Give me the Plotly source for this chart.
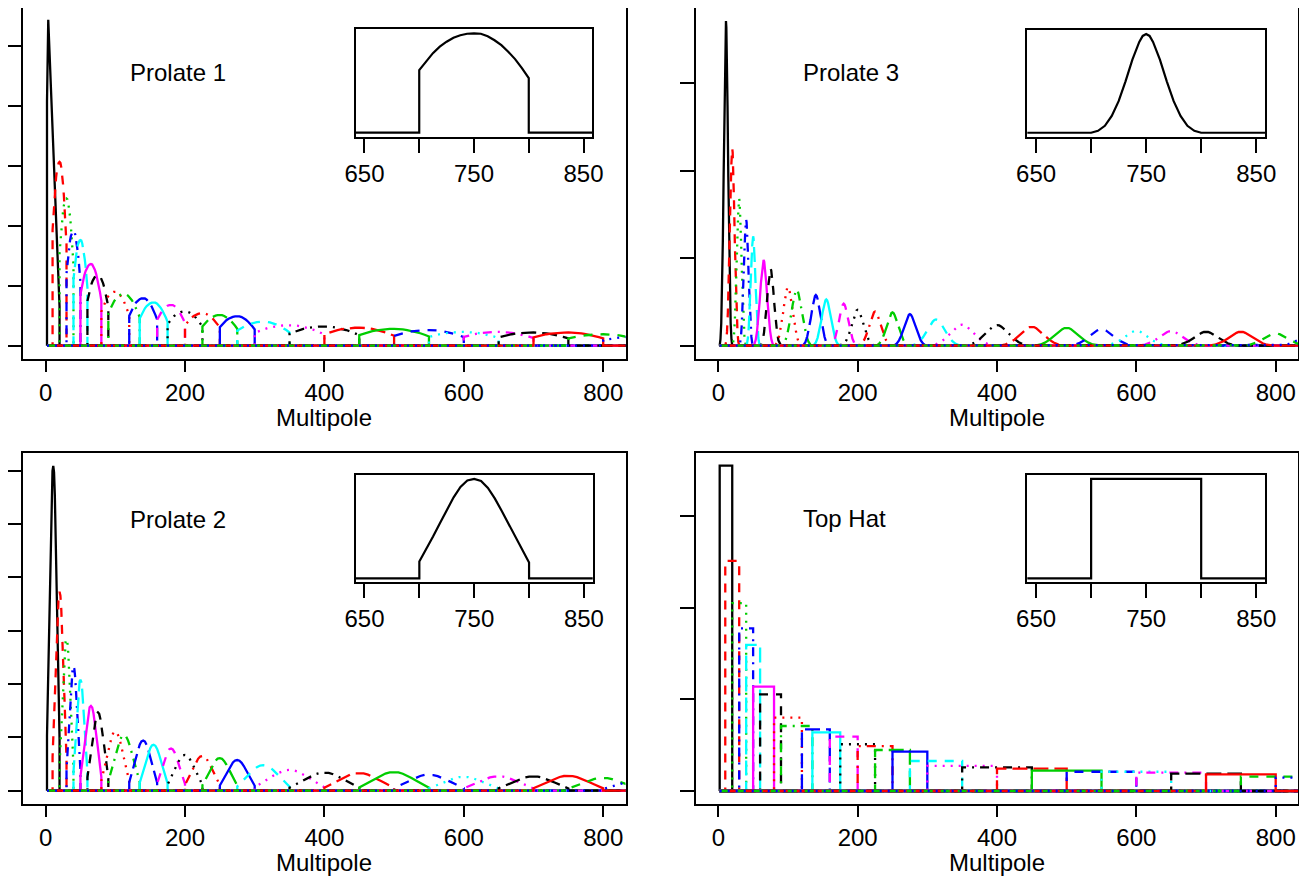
import plotly.graph_objects as go

# ---------------- data ----------------
# overlapping multipole bins (band b spans bin_lo[b]..bin_hi[b])
bin_lo = [2, 10, 20, 30, 40, 50, 60, 80, 90, 120, 135, 160, 175, 200, 225, 250,
          275, 300, 350, 400, 450, 500, 550, 600, 650, 700, 750, 800]
bin_hi = [20, 30, 40, 50, 60, 80, 90, 120, 135, 160, 175, 200, 225, 250, 275, 300,
          350, 400, 450, 500, 550, 600, 650, 700, 750, 800, 850, 900]

# peak height of every band window (arbitrary units, axis ticks every 1 unit)
prolate1_peak = [5.43, 3.06, 2.45, 1.91, 1.76, 1.36, 1.18, 0.90, 0.86, 0.79, 0.72, 0.68,
                 0.57, 0.54, 0.51, 0.49, 0.40, 0.34, 0.32, 0.30, 0.28, 0.26, 0.23, 0.23,
                 0.22, 0.22, 0.19, 0.15]
prolate3_peak = [3.71, 2.255, 1.68, 1.44, 1.25, 0.98, 0.88, 0.67, 0.64, 0.58, 0.53, 0.48,
                 0.41, 0.39, 0.38, 0.36, 0.30, 0.24, 0.236, 0.217, 0.206, 0.19, 0.17,
                 0.168, 0.16, 0.16, 0.14, 0.12]
prolate2_peak = [6.09, 3.73, 2.84, 2.33, 2.08, 1.59, 1.47, 1.11, 1.04, 0.94, 0.86, 0.79,
                 0.67, 0.65, 0.61, 0.575, 0.48, 0.39, 0.34, 0.33, 0.35, 0.30, 0.26, 0.27,
                 0.27, 0.28, 0.24, 0.20]
tophat_peak = [3.549, 2.51, 2.05, 1.775, 1.593, 1.138, 1.055, 0.80, 0.709, 0.673, 0.64,
               0.593, 0.51, 0.49, 0.447, 0.429, 0.327, 0.273, 0.258, 0.243, 0.222, 0.21,
               0.21, 0.20, 0.189, 0.182, 0.156, 0.145]

# window shapes (fraction across band, relative height)
prolate1_frac = [0, 0, 0.0625, 0.125, 0.1875, 0.25, 0.3125, 0.375, 0.4375, 0.5,
                 0.5625, 0.625, 0.6875, 0.75, 0.8125, 0.875, 0.9375, 1, 1]
prolate1_val = [0, 0.63, 0.72, 0.80, 0.865, 0.915, 0.955, 0.98, 0.995, 1.0,
                0.995, 0.97, 0.93, 0.88, 0.815, 0.74, 0.65, 0.55, 0]
prolate1_first_frac = [0, 0, 0.1, 0.55, 1.0, 1.0]
prolate1_first_val = [0, 0.75, 1.0, 0.56, 0.12, 0]
prolate2_frac = [0, 0, 0.0625, 0.125, 0.1875, 0.25, 0.3125, 0.375, 0.4375, 0.5,
                 0.5625, 0.625, 0.6875, 0.75, 0.8125, 0.875, 0.9375, 1, 1]
prolate2_val = [0, 0.17, 0.29, 0.42, 0.555, 0.69, 0.815, 0.92, 0.985, 1.0,
                0.98, 0.91, 0.805, 0.68, 0.55, 0.42, 0.29, 0.16, 0]
prolate3_frac = [0, 0.0625, 0.125, 0.1875, 0.25, 0.3125, 0.375, 0.4375, 0.46875, 0.5,
                 0.53125, 0.5625, 0.625, 0.6875, 0.75, 0.8125, 0.875, 0.9375, 1]
prolate3_val = [0, 0.02, 0.07, 0.17, 0.32, 0.52, 0.74, 0.92, 0.98, 1.0,
                0.98, 0.92, 0.74, 0.52, 0.32, 0.17, 0.07, 0.02, 0]
tophat_frac = [0, 0, 1, 1]
tophat_val = [0, 1, 1, 0]

panel_titles = ["Prolate 1", "Prolate 3", "Prolate 2", "Top Hat"]
x_ticks = [0, 200, 400, 600, 800]
inset_ticks = [650, 700, 750, 800, 850]
inset_ticktext = ["650", "", "750", "", "850"]
inset_band = (700, 800)
x_title = "Multipole"

# ---------------- styling ----------------
colors = ["#000000", "#FF0000", "#00CD00", "#0000FF", "#00FFFF", "#FF00FF"]
dashes = ["solid", "9px,8px", "2px,6px", "2px,6px,9px,6px", "15px,6px"]
FONT = "Liberation Sans, Arial, Helvetica, sans-serif"
FS = 24
PAGE_W, PAGE_H = 1307, 880
OFF = 8                      # default page body margin
W, H = PAGE_W - 2 * OFF, PAGE_H - OFF

def px_x(p):
    return (p - OFF) / W

def px_y(p):
    return 1 - (p - OFF) / H

panels = [
    dict(peaks=prolate1_peak, frac=prolate1_frac, val=prolate1_val,
         first=(prolate1_first_frac, prolate1_first_val),
         box=(23.3, 625.5, 8.3, 359), yr=[-0.222, 5.62], nt=5, label_y=4.55,
         inset=(355.7, 592.3, 29.3, 136.7)),
    dict(peaks=prolate3_peak, frac=prolate3_frac, val=prolate3_val, first=None,
         box=(696, 1298, 8.3, 359), yr=[-0.152, 3.856], nt=3, label_y=3.12,
         inset=(1027.3, 1265, 30, 136.7)),
    dict(peaks=prolate2_peak, frac=prolate2_frac, val=prolate2_val, first=None,
         box=(23.3, 625.5, 453.3, 804), yr=[-0.249, 6.326], nt=6, label_y=5.09,
         inset=(355.7, 592.7, 475, 582.3)),
    dict(peaks=tophat_peak, frac=tophat_frac, val=tophat_val, first=None,
         box=(696, 1298, 453.3, 804), yr=[-0.142, 3.684], nt=3, label_y=2.97,
         inset=(1027.3, 1265, 475, 582.3)),
]

fig = go.Figure()
layout = {}
annotations = []

for p_i, P in enumerate(panels):
    n = p_i + 1
    xa = "x" if n == 1 else f"x{n}"
    ya = "y" if n == 1 else f"y{n}"
    m = n + 4
    xi, yi = f"x{m}", f"y{m}"

    for b in range(len(bin_lo)):
        lo, hi, h = bin_lo[b], bin_hi[b], P["peaks"][b]
        fr, vv = P["frac"], P["val"]
        if b == 0 and P["first"] is not None:
            fr, vv = P["first"]
        xs = [2] + [lo + f * (hi - lo) for f in fr] + [900]
        ys = [0] + [h * v for v in vv] + [0]
        fig.add_trace(go.Scatter(
            x=xs, y=ys, mode="lines", xaxis=xa, yaxis=ya, hoverinfo="skip",
            line=dict(color=colors[b % 6], dash=dashes[b % 5], width=2.3),
            showlegend=False))

    # inset: the 700-800 band shape, normalised
    lo, hi = inset_band
    xs = [630] + [lo + f * (hi - lo) for f in P["frac"]] + [870]
    ys = [0] + list(P["val"]) + [0]
    fig.add_trace(go.Scatter(
        x=xs, y=ys, mode="lines", xaxis=xi, yaxis=yi, hoverinfo="skip",
        line=dict(color="black", width=2.2), showlegend=False))

    x0, x1, y0, y1 = P["box"]
    common_line = dict(showline=True, linecolor="black", linewidth=2, mirror=True,
                       showgrid=False, zeroline=False, automargin=False)
    layout["xaxis" if n == 1 else f"xaxis{n}"] = dict(
        domain=[px_x(x0), px_x(x1)], range=[-32, 832], anchor=ya,
        tickmode="array", tickvals=x_ticks, ticks="outside", ticklen=11,
        tickwidth=2, tickcolor="black",
        tickfont=dict(family=FONT, size=FS, color="black"), **common_line)
    layout["yaxis" if n == 1 else f"yaxis{n}"] = dict(
        domain=[px_y(y1), px_y(y0)], range=P["yr"], anchor=xa,
        tickmode="array", tickvals=list(range(0, P["nt"] + 1)), ticks="outside",
        ticklen=14, tickwidth=2, tickcolor="black", showticklabels=False,
        **common_line)

    ix0, ix1, iy0, iy1 = P["inset"]
    layout[f"xaxis{m}"] = dict(
        domain=[px_x(ix0), px_x(ix1)], range=[642, 858], anchor=yi,
        tickmode="array", tickvals=inset_ticks, ticktext=inset_ticktext,
        ticks="outside", ticklen=14, tickwidth=2, tickcolor="black",
        tickfont=dict(family=FONT, size=FS, color="black"), **common_line)
    layout[f"yaxis{m}"] = dict(
        domain=[px_y(iy1), px_y(iy0)], range=[-0.04, 1.04], anchor=xi,
        showticklabels=False, ticks="", **common_line)

    annotations.append(dict(
        x=118, y=P["label_y"], xref=xa, yref=ya, text=panel_titles[p_i],
        showarrow=False, xanchor="left", yanchor="middle",
        font=dict(family=FONT, size=FS, color="black")))
    annotations.append(dict(
        x=px_x((x0 + x1) / 2), y=px_y(y1 + 58), xref="paper", yref="paper",
        text=x_title, showarrow=False, xanchor="center", yanchor="middle",
        font=dict(family=FONT, size=FS, color="black")))

fig.update_layout(
    width=W, height=H,
    margin=dict(l=0, r=0, t=0, b=0, pad=0, autoexpand=False),
    paper_bgcolor="white", plot_bgcolor="white", showlegend=False,
    annotations=annotations, **layout)

fig.write_html("out.html")
